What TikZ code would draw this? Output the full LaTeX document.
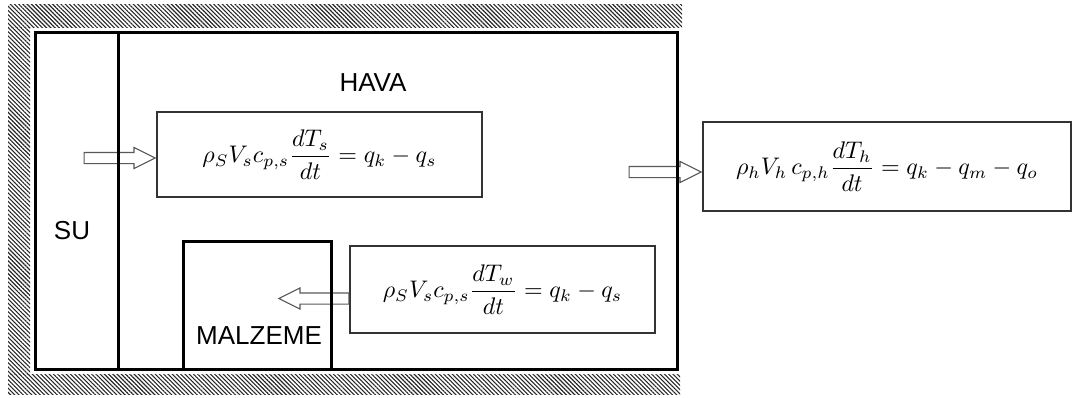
\documentclass[tikz,border=0pt]{standalone}
\usepackage{fontspec}
\newfontfamily\labelfont{Liberation Sans}
\usetikzlibrary{shapes.arrows,patterns.meta}

\newcommand{\eqscale}[1]{\scalebox{2.4}{$\displaystyle #1$}}

\begin{document}
\begin{tikzpicture}[
  x=1pt,y=-1pt,
  wall/.style={line width=3pt},
  hatch/.style={pattern={Lines[angle=-45,distance=3pt,line width=1.1pt]},pattern color=black!85},
  eqbox/.style={draw=black!80,line width=1.2pt,inner sep=0pt},
  lbl/.style={font=\labelfont\fontsize{26}{30}\selectfont},
  harrow/.style={single arrow,draw=black!65,line width=1.1pt,inner xsep=0pt,inner ysep=5pt,
    single arrow head extend=5pt,single arrow tip angle=53}
]
\useasboundingbox (0,0) rectangle (1073,397);
% insulation
\fill[hatch] (8,4) rectangle (682,27);
\fill[hatch] (8,27) rectangle (30,374);
\fill[hatch] (8,374) rectangle (680,394);

% balance equations
\node[eqbox,minimum width=325pt,minimum height=85pt] (eqsu) at (319.5,154.5)
  {\eqscale{\rho_S V_s c_{p,s}\frac{dT_s}{dt}=q_k-q_s}};
\node[eqbox,minimum width=305pt,minimum height=87pt] (eqmal) at (502.5,289.5)
  {\eqscale{\rho_S V_s c_{p,s}\frac{dT_w}{dt}=q_k-q_s}};
\node[eqbox,minimum width=368pt,minimum height=89pt] (eqhava) at (887,166.5)
  {\eqscale{\rho_h V_h\, c_{p,h}\frac{dT_h}{dt}=q_k-q_m-q_o}};

% heat flow arrows
\coordinate (ysu) at (0,158);
\coordinate (ymal) at (0,298.5);
\coordinate (yhava) at (0,172);
\node[harrow,minimum height=71pt,anchor=tip] (insu) at (eqsu.west |- ysu) {};
\node[harrow,minimum height=70pt,anchor=tail,shape border rotate=180] (inmal) at (eqmal.west |- ymal) {};
\node[harrow,minimum height=72pt,anchor=tip] (inhava) at (eqhava.west |- yhava) {};

% walls
\draw[wall] (35,32) rectangle (677,369.5);
\draw[wall] (118,32) -- (118,369.5);
\draw[wall] (183,369.5) |- (331,241) -- (331,369.5);

% labels
\node[lbl] (hava) at (373,83) {HAVA};
\node[lbl] (su) at (72,231) {SU};
\node[lbl] (malzeme) at (259,336) {MALZEME};
\end{tikzpicture}
\end{document}
